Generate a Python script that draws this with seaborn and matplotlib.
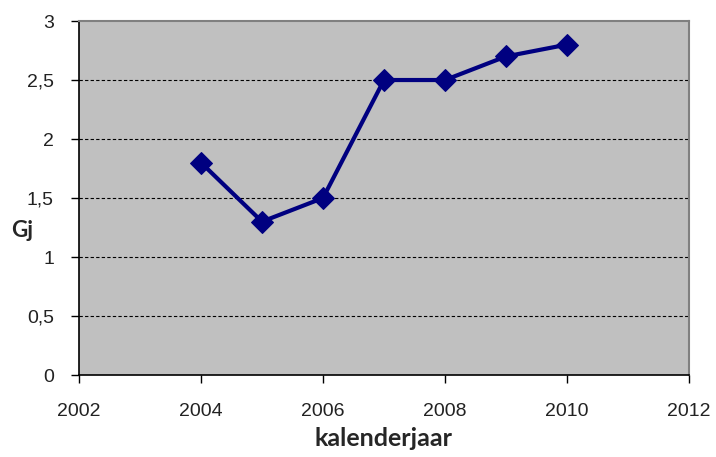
import seaborn as sns
import matplotlib.pyplot as plt
from matplotlib.ticker import FuncFormatter
import pandas as pd

years = [2004, 2005, 2006, 2007, 2008, 2009, 2010]
gj = [1.8, 1.3, 1.5, 2.5, 2.5, 2.7, 2.8]

df = pd.DataFrame({"jaar": years, "Gj": gj})

sns.set_style("white")
plt.rcParams["font.family"] = ["Liberation Sans", "DejaVu Sans"]

fig = plt.figure(figsize=(7.16, 4.57), dpi=100)
ax = fig.add_axes([0.1103, 0.1794, 0.852, 0.7746])
ax.set_facecolor("#C0C0C0")

sns.lineplot(data=df, x="jaar", y="Gj", ax=ax, color="#000080", linewidth=3,
             marker="D", markersize=11, markeredgecolor="#000080", zorder=3)

ax.set_xlim(2002, 2012)
ax.set_ylim(0, 3)
ax.set_xticks([2002, 2004, 2006, 2008, 2010, 2012])
ax.set_yticks([0, 0.5, 1, 1.5, 2, 2.5, 3])
ax.yaxis.set_major_formatter(FuncFormatter(lambda v, p: f"{v:g}".replace(".", ",")))

# dashed gridlines
for y in [0.5, 1, 1.5, 2, 2.5]:
    ax.axhline(y, color="black", linestyle=(0, (3, 2)), linewidth=0.8, zorder=1)

for side in ["top", "right"]:
    ax.spines[side].set_color("#808080")
    ax.spines[side].set_linewidth(1.5)
for side in ["left", "bottom"]:
    ax.spines[side].set_color("black")
    ax.spines[side].set_linewidth(1.2)

ax.tick_params(axis="both", direction="out", length=6, width=1, color="black",
               bottom=True, left=True, labelsize=14, labelcolor="#222222")
ax.tick_params(axis="x", pad=14)
ax.tick_params(axis="y", pad=12)

ax.set_xlabel("kalenderjaar", fontsize=18, fontweight="bold", family="Lato", labelpad=5)
ax.set_ylabel("Gj", fontsize=16, fontweight="bold", family="Lato", rotation=0, va="center")
ax.yaxis.set_label_coords(-0.093, 0.407)

fig.savefig("out.png", dpi=100)
